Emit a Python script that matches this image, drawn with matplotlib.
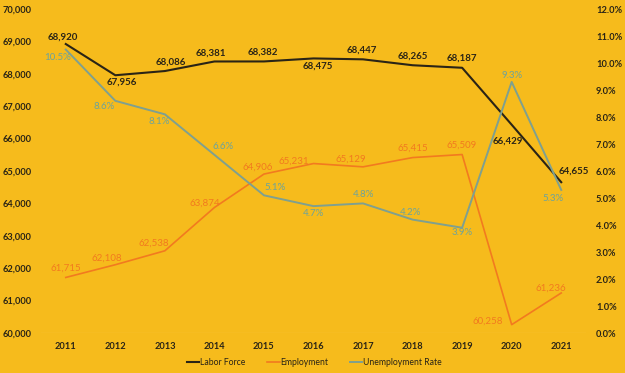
import matplotlib
matplotlib.use("Agg")
import matplotlib.pyplot as plt
from matplotlib.ticker import FuncFormatter

years = ["2011", "2012", "2013", "2014", "2015", "2016", "2017", "2018", "2019", "2020", "2021"]
labor_force = [68920, 67956, 68086, 68381, 68382, 68475, 68447, 68265, 68187, 66429, 64655]
employment = [61715, 62108, 62538, 63874, 64906, 65231, 65129, 65415, 65509, 60258, 61236]
unemp_rate = [10.5, 8.6, 8.1, 6.6, 5.1, 4.7, 4.8, 4.2, 3.9, 9.3, 5.3]

BG = "#F6BB1C"
C_LF = "#2A2416"
C_EMP = "#F27A1F"
C_UR = "#7FA08F"
C_UR_TXT = "#6CA39C"

plt.rcParams['font.family'] = ['Lato', 'DejaVu Sans']

fig = plt.figure(figsize=(6.25, 3.73), dpi=100, facecolor=BG)
ax = fig.add_axes([0.0656, 0.1072, 0.872, 0.8686], facecolor=BG)
ax2 = ax.twinx()

x = list(range(len(years)))
l1, = ax.plot(x, labor_force, color=C_LF, lw=1.5, label="Labor Force", zorder=3)
l2, = ax.plot(x, employment, color=C_EMP, lw=1.2, label="Employment", zorder=3)
l3, = ax2.plot(x, unemp_rate, color=C_UR, lw=1.4, label="Unemployment Rate", zorder=3)

ax.set_xlim(-0.5, len(years) - 0.5)
ax.set_ylim(60000, 70000)
ax2.set_ylim(0, 12)
ax.set_yticks(range(60000, 70001, 1000))
ax2.set_yticks([i for i in range(0, 13)])
ax.yaxis.set_major_formatter(FuncFormatter(lambda v, p: f"{int(v):,}"))
ax2.yaxis.set_major_formatter(FuncFormatter(lambda v, p: f"{v:.1f}%"))
ax.set_xticks(x)
ax.set_xticklabels(years)

for a in (ax, ax2):
    for s in a.spines.values():
        s.set_visible(False)
    a.tick_params(length=0, labelsize=6.7, colors="#2A2416")
    for t in a.get_yticklabels() + a.get_xticklabels():
        t.set_fontweight("bold")
ax.tick_params(axis='y', pad=6.5)
ax2.tick_params(axis='y', pad=7.2)
ax.tick_params(axis='x', pad=6.5)
ax.axhline(60000, color="#F9D77A", lw=0.8, zorder=1)

# label offsets in pixels (dx, dy; dy positive = up) relative to data point
lf_off = [(-3, 7), (6, -7), (6, 9), (-4, 8), (-1, 9), (4, -8), (-1, 9), (0, 9), (0, 10), (-4, -16), (13, 11)]
emp_off = [(0, 9), (-9, 7), (-11, 8), (-10, 4), (-6, 7), (-20, 2), (-12, 8), (0, 9), (-1, 9), (-24, 3), (-10, 5)]
ur_off = [(-8, -8), (-11, -6), (-6, -7), (9, 8), (11, 8), (0, -7), (0, 9), (-2, 7), (0, -5), (0, 6), (-8, -9)]

for i in x:
    ax.annotate(f"{labor_force[i]:,}", (i, labor_force[i]), xytext=lf_off[i], textcoords="offset pixels",
                ha="center", va="center", fontsize=7, fontweight="bold", color=C_LF, zorder=5)
    ax.annotate(f"{employment[i]:,}", (i, employment[i]), xytext=emp_off[i], textcoords="offset pixels",
                ha="center", va="center", fontsize=7, color=C_EMP, zorder=5)
    ax2.annotate(f"{unemp_rate[i]:.1f}%", (i, unemp_rate[i]), xytext=ur_off[i], textcoords="offset pixels",
                 ha="center", va="center", fontsize=7, color=C_UR_TXT, zorder=5)

leg = fig.legend(handles=[l1, l2, l3], loc="center", bbox_to_anchor=(0.503, 0.027), ncol=3, frameon=False,
                 fontsize=6.2, handlelength=1.4, handletextpad=0.05, columnspacing=2.6)
for t in leg.get_texts():
    t.set_color("#2A2416")

fig.savefig("out.png", dpi=100, facecolor=BG)
